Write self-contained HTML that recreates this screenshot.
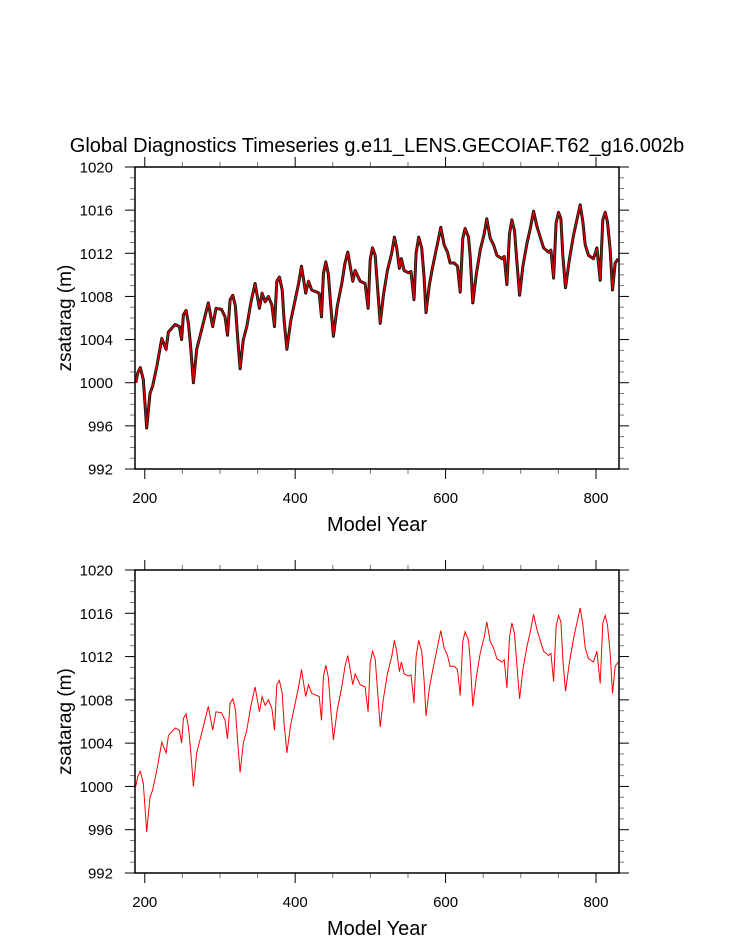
<!DOCTYPE html>
<html><head><meta charset="utf-8"><style>
body{margin:0;background:#fff;width:733px;height:945px;overflow:hidden}
svg text{font-family:"Liberation Sans",sans-serif;fill:#000}
</style></head><body>
<svg id="chart" width="733" height="945" xmlns="http://www.w3.org/2000/svg">
<text x="377" y="152" font-size="20" text-anchor="middle">Global Diagnostics Timeseries g.e11_LENS.GECOIAF.T62_g16.002b</text>
</svg>
<script>
const years=[188,190.6,194,198,202.6,207,210.6,216,222.6,228.3,231.4,240.3,246,249,251.4,255,258,261,264.7,269,273.5,278.8,284.5,290.3,294.7,302,306.8,310,313.4,317,320.5,323,326.7,331,335.6,341,346.7,352.4,356,360,364.4,369,372.5,375.6,379,382.7,385.3,389,394,400,404.5,408.4,414,417.7,422,428.7,432,435,437.5,440.7,444,447.3,450.8,456,462,466.3,470,476.6,479.8,486.5,493,497,499.7,502.8,506.4,509.5,513,517.3,522.6,528.4,532,535,538.6,541.3,544.8,550.6,554,558,560.8,564.3,568.3,571.4,574,578.5,583,589.2,593.6,598,602.5,606,611.4,615.8,619.4,622.9,626,630.5,632.7,636.2,640.7,646,651.3,654.8,659.3,663.7,668.2,674.8,678,681.5,685,688.2,691.7,694.8,698.4,702.8,708.1,712.6,717,721.4,725.8,730.3,737,740,743.6,747,750.2,753.3,756,759.5,764.8,770.2,774.6,779,782.6,785.7,790,796.7,801.2,805.6,809.1,812.2,815.3,818.9,822,825.5,829.5];
const values=[1000.0,1000.9,1001.4,1000.3,995.8,999.0,999.7,1001.5,1004.1,1003.1,1004.7,1005.4,1005.2,1004.0,1006.3,1006.7,1005.5,1003.4,1000.0,1003.1,1004.3,1005.8,1007.4,1005.2,1006.9,1006.8,1006.1,1004.4,1007.7,1008.1,1007.1,1004.6,1001.3,1004.0,1005.2,1007.4,1009.2,1006.9,1008.3,1007.5,1008.0,1007.2,1005.2,1009.4,1009.8,1008.6,1005.8,1003.1,1005.7,1007.7,1009.2,1010.8,1008.3,1009.4,1008.6,1008.4,1008.3,1006.1,1010.1,1011.2,1010.1,1007.1,1004.3,1007.1,1009.2,1011.1,1012.1,1009.4,1010.4,1009.4,1009.2,1006.9,1011.4,1012.5,1011.8,1008.9,1005.5,1008.1,1010.4,1012.0,1013.5,1012.5,1010.6,1011.5,1010.4,1010.2,1010.3,1007.7,1012.0,1013.5,1012.5,1009.8,1006.5,1009.1,1010.8,1012.9,1014.4,1012.8,1012.1,1011.1,1011.1,1010.8,1008.4,1013.4,1014.3,1013.5,1011.7,1007.4,1010.0,1012.3,1013.8,1015.2,1013.4,1012.8,1011.8,1011.5,1011.7,1009.1,1013.8,1015.1,1014.1,1011.2,1008.1,1010.8,1012.9,1014.3,1015.9,1014.5,1013.5,1012.5,1012.1,1012.3,1009.7,1014.8,1015.8,1015.2,1011.7,1008.8,1011.5,1013.7,1015.1,1016.5,1014.9,1012.8,1011.8,1011.5,1012.5,1009.5,1015.1,1015.8,1014.9,1012.3,1008.6,1011.1,1011.5];
const yTicks=[992,996,1000,1004,1008,1012,1016,1020];
const xTicks=[200,400,600,800];

const svg=document.getElementById('chart');
const NS='http://www.w3.org/2000/svg';
function mk(tag,attrs,parent){const e=document.createElementNS(NS,tag);for(const k in attrs)e.setAttribute(k,attrs[k]);(parent||svg).appendChild(e);return e;}
const X0=135,X1=619,YR0=187,YR1=830.6;
function drawPanel(top,bottom,name,withBlack){
  const g=mk('g',{});
  
  
  const sx=v=>X0+(v-YR0)/(YR1-YR0)*(X1-X0);
  const sy=v=>bottom-(v-992)/(1020-992)*(bottom-top);
  for(let v=992;v<=1020;v++){
    const maj=(v%4===0);const L=maj?10:5;const y=sy(v);
    mk('line',{x1:X0-L,x2:X0,y1:y,y2:y,stroke:maj?'#000':'#777','stroke-width':1},g);
    mk('line',{x1:X1,x2:X1+L,y1:y,y2:y,stroke:maj?'#000':'#777','stroke-width':1},g);
  }
  for(let v=200;v<=800;v+=50){
    const maj=(v%200===0);const L=maj?10:5;const x=sx(v);
    mk('line',{x1:x,x2:x,y1:bottom,y2:bottom+L,stroke:maj?'#000':'#777','stroke-width':1},g);
    mk('line',{x1:x,x2:x,y1:top-L,y2:top,stroke:maj?'#000':'#777','stroke-width':1},g);
  }
  yTicks.forEach(v=>{const t=mk('text',{x:113,y:sy(v)+5.5,'font-size':15,'text-anchor':'end'},g);t.textContent=v;
    
    });
  xTicks.forEach(v=>{const t=mk('text',{x:sx(v),y:bottom+34,'font-size':15,'text-anchor':'middle'},g);t.textContent=v;
    
    });
  const pts=years.map((yr,i)=>sx(yr).toFixed(1)+','+sy(values[i]).toFixed(1)).join(' ');
  if(withBlack){
    const b=mk('polyline',{points:pts,fill:'none',stroke:'#111','stroke-width':3,'stroke-linejoin':'round'},g);
    
    
  }
  const r=mk('polyline',{points:pts,fill:'none',stroke:withBlack?'#d00':'#f00','stroke-width':withBlack?1.3:1},g);
  
  
  const f=mk('rect',{x:X0,y:top,width:X1-X0,height:bottom-top,fill:'none',stroke:'#000','stroke-width':1.5},g);
  
  
  const yt=mk('text',{x:0,y:0,'font-size':19,'text-anchor':'middle',transform:`translate(71,${(top+bottom)/2}) rotate(-90)`},g);
  yt.textContent='zsatarag (m)';
  
  
  const xt=mk('text',{x:377,y:bottom+62,'font-size':20,'text-anchor':'middle'},g);
  xt.textContent='Model Year';
  
  
}
drawPanel(167,469,'top-panel',true);
drawPanel(570,873,'bottom-panel',false);
</script>
</body></html>
